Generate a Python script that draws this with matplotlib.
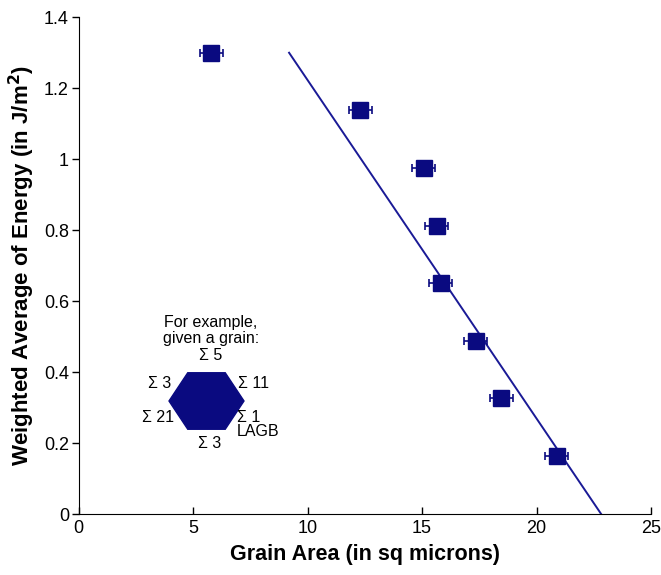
import matplotlib.pyplot as plt
from matplotlib.patches import RegularPolygon

plt.rcParams['font.family'] = ['Liberation Sans', 'DejaVu Sans']

# grain area vs weighted average boundary energy
area = [5.79, 12.29, 15.08, 15.64, 15.81, 17.34, 18.45, 20.88]
energy = [1.30, 1.138, 0.975, 0.811, 0.651, 0.487, 0.327, 0.163]
area_err = [0.5, 0.5, 0.5, 0.5, 0.5, 0.5, 0.5, 0.5]

# linear trend line end points
fit_x = [9.19, 22.82]
fit_y = [1.30, 0.0]

navy = '#0a0a80'

fig = plt.figure(figsize=(6.61, 5.75), dpi=100)
ax = fig.add_axes([0.119, 0.106, 0.866, 0.864])

ax.plot(fit_x, fit_y, color='#1a1a96', lw=1.4, zorder=2)
ax.errorbar(area, energy, xerr=area_err, fmt='s', color=navy, ms=11,
            ecolor=navy, elinewidth=1.2, capsize=3, capthick=1.2, zorder=3)

# example grain drawn as a hexagon with its boundary labels
hexagon = RegularPolygon((206.5 / 661, 174 / 575), numVertices=6, radius=37.5 / 661,
                         orientation=0.5236, transform=fig.transFigure,
                         facecolor=navy, edgecolor=navy)
fig.patches.append(hexagon)

fs = 11.5
fig.text(211 / 661, 1 - 322 / 575, 'For example,', ha='center', va='center', fontsize=fs)
fig.text(211 / 661, 1 - 338 / 575, 'given a grain:', ha='center', va='center', fontsize=fs)
fig.text(211 / 661, 1 - 356 / 575, 'Σ 5', ha='center', va='center', fontsize=fs)
fig.text(160 / 661, 1 - 383 / 575, 'Σ 3', ha='center', va='center', fontsize=fs)
fig.text(254 / 661, 1 - 383 / 575, 'Σ 11', ha='center', va='center', fontsize=fs)
fig.text(158 / 661, 1 - 418 / 575, 'Σ 21', ha='center', va='center', fontsize=fs)
fig.text(249 / 661, 1 - 418 / 575, 'Σ 1', ha='center', va='center', fontsize=fs)
fig.text(258 / 661, 1 - 432 / 575, 'LAGB', ha='center', va='center', fontsize=fs)
fig.text(210 / 661, 1 - 444 / 575, 'Σ 3', ha='center', va='center', fontsize=fs)

ax.set_xlim(0, 25)
ax.set_ylim(0, 1.4)
ax.set_xticks([0, 5, 10, 15, 20, 25])
ax.set_yticks([0, 0.2, 0.4, 0.6, 0.8, 1.0, 1.2, 1.4])
ax.set_yticklabels(['0', '0.2', '0.4', '0.6', '0.8', '1', '1.2', '1.4'])
ax.spines['top'].set_visible(False)
ax.spines['right'].set_visible(False)
ax.tick_params(labelsize=13, length=5, width=1)
ax.tick_params(axis='x', direction='in', pad=4)
ax.tick_params(axis='y', direction='out', pad=2)
ax.set_xlabel('Grain Area (in sq microns)', fontsize=15.5, fontweight='bold', labelpad=5)
ax.set_ylabel('Weighted Average of Energy (in J/m$^\\mathbf{2}$)', fontsize=16,
              fontweight='bold', labelpad=5)

fig.savefig('out.png', dpi=100)
